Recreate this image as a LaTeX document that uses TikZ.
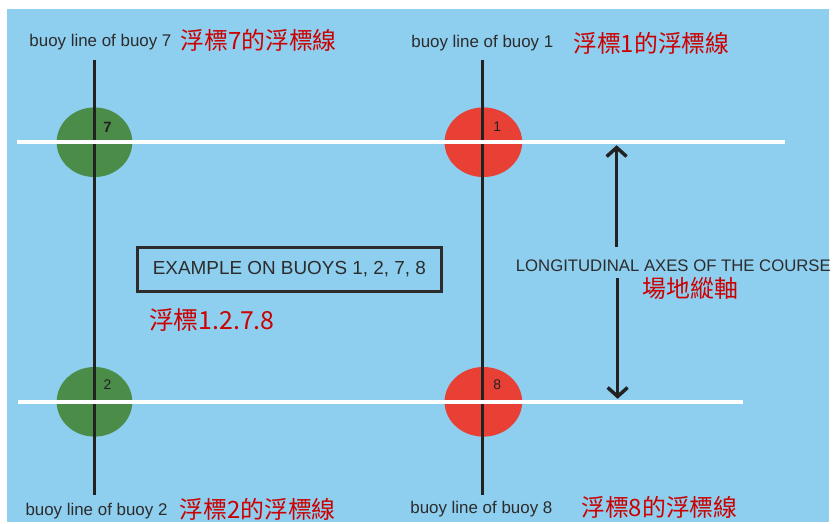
\documentclass[tikz,border=0pt]{standalone}
\usepackage{fontspec}
\setmainfont{Liberation Sans}
\newfontfamily\cjk{Noto Sans CJK TC}
\usetikzlibrary{arrows.meta,shapes.geometric}
\definecolor{water}{RGB}{142,206,238}
\definecolor{buoygreen}{RGB}{74,140,72}
\definecolor{buoyred}{RGB}{232,64,52}
\definecolor{zhred}{RGB}{204,0,0}
\definecolor{ink}{RGB}{44,44,44}
\definecolor{pole}{RGB}{34,34,34}

\begin{document}
\begin{tikzpicture}[x=1pt, y=-1pt]
    % 背景
    \fill[white] (0,0) rectangle (834,525);
    \fill[water] (7,9) rectangle (834,525);

    % 浮標
    \node[ellipse, fill=buoygreen, minimum width=76pt, minimum height=70pt, inner sep=0] (b7) at (95, 143) {};
    \node[ellipse, fill=buoyred, minimum width=78pt, minimum height=70pt, inner sep=0] (b1) at (486, 143) {};
    \node[ellipse, fill=buoygreen, minimum width=76pt, minimum height=70pt, inner sep=0] (b2) at (95, 404) {};
    \node[ellipse, fill=buoyred, minimum width=78pt, minimum height=70pt, inner sep=0] (b8) at (486, 404) {};

    % 線の端
    \coordinate (lt) at (95, 60);
    \coordinate (lb) at (95, 498);
    \coordinate (rt) at (485, 60);
    \coordinate (rb) at (485, 498);
    \coordinate (h1a) at (17, 143);
    \coordinate (h1b) at (789, 143);
    \coordinate (h2a) at (18, 404);
    \coordinate (h2b) at (747, 404);
    \coordinate (a1) at (620, 146);
    \coordinate (a2) at (620, 248);
    \coordinate (a3) at (621, 280);
    \coordinate (a4) at (621, 401);

    % 線を引く
    \draw[pole, line width=3.5pt] (lt) -- (lb);
    \draw[pole, line width=3.5pt] (rt) -- (rb);
    \draw[white, line width=3.5pt] (h1a) -- (h1b);
    \draw[white, line width=3.5pt] (h2a) -- (h2b);

    % 番号
    \node[pole, font=\bfseries\fontsize{15}{15}\selectfont] (n7) at (108, 128) {7};
    \node[pole, font=\fontsize{14}{14}\selectfont] (n1) at (500, 127) {1};
    \node[pole, font=\fontsize{14}{14}\selectfont] (n2) at (108, 387) {2};
    \node[pole, font=\fontsize{14}{14}\selectfont] (n8) at (500, 387) {8};

    % 矢印
    \node[ink, font=\fontsize{16.8}{17}\selectfont] (axis) at (677, 267) {LONGITUDINAL AXES OF THE COURSE};
    \node[zhred, font=\cjk\fontsize{24}{24}\selectfont] (axiszh) at (694, 290) {場地縱軸};
    \draw[pole, line width=3.5pt, -{Straight Barb[length=9pt, width=20pt, line width=3.5pt]}] (a2) -- (a1);
    \draw[pole, line width=3.5pt, -{Straight Barb[length=9pt, width=20pt, line width=3.5pt]}] (a3) -- (a4);

    % 例
    \node[draw=pole, line width=3pt, ink, minimum width=306pt, minimum height=45pt, font=\fontsize{19}{19}\selectfont] (ex) at (291, 271) {EXAMPLE ON BUOYS 1, 2, 7, 8};
    \node[zhred, font=\cjk\fontsize{25}{25}\selectfont] (exzh) at (213, 322) {浮標1.2.7.8};

    % 浮標線の名前
    \node[ink, font=\fontsize{17}{17}\selectfont] (t7) at (101, 42) {buoy line of buoy 7};
    \node[zhred, font=\cjk\fontsize{24}{24}\selectfont] (t7zh) at (260, 41) {浮標7的浮標線};
    \node[ink, font=\fontsize{17}{17}\selectfont] (t1) at (485, 43) {buoy line of buoy 1};
    \node[zhred, font=\cjk\fontsize{24}{24}\selectfont] (t1zh) at (655, 44) {浮標1的浮標線};
    \node[ink, font=\fontsize{17}{17}\selectfont] (t2) at (97, 514) {buoy line of buoy 2};
    \node[zhred, font=\cjk\fontsize{24}{24}\selectfont] (t2zh) at (259, 512) {浮標2的浮標線};
    \node[ink, font=\fontsize{17}{17}\selectfont] (t8) at (484, 512) {buoy line of buoy 8};
    \node[zhred, font=\cjk\fontsize{24}{24}\selectfont] (t8zh) at (663, 510) {浮標8的浮標線};

    \useasboundingbox (0,0) rectangle (834,525);
\end{tikzpicture}
\end{document}
